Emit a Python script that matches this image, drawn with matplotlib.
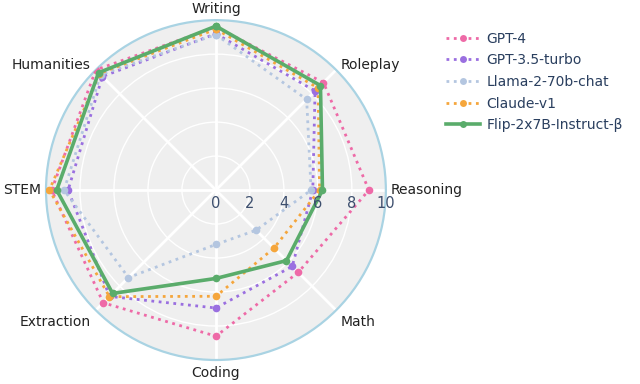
import numpy as np
import matplotlib
matplotlib.use("Agg")
import matplotlib.pyplot as plt
from matplotlib.lines import Line2D

plt.rcParams['font.family'] = ['DejaVu Sans']

categories = ['Writing', 'Roleplay', 'Reasoning', 'Math', 'Coding',
              'Extraction', 'STEM', 'Humanities']
gpt4 = [9.6, 8.95, 9.0, 6.85, 8.6, 9.38, 9.67, 10.0]
gpt35 = [9.2, 8.25, 5.7, 6.35, 6.94, 8.85, 8.7, 9.45]
llama = [9.15, 7.55, 5.6, 3.34, 3.2, 7.28, 8.94, 9.6]
claude = [9.47, 8.5, 6.1, 4.83, 6.25, 8.87, 9.8, 9.7]
flip = [9.65, 8.7, 6.27, 5.87, 5.2, 8.6, 9.37, 9.77]
rticks = [0, 2, 4, 6, 8, 10]

series = [
    ('GPT-4', gpt4, '#ee6aa7', ':'),
    ('GPT-3.5-turbo', gpt35, '#9a6fe0', ':'),
    ('Llama-2-70b-chat', llama, '#b4c6e0', ':'),
    ('Claude-v1', claude, '#f5a63c', ':'),
    ('Flip-2x7B-Instruct-β', flip, '#5aac6b', '-'),
]

fig = plt.figure(figsize=(6.4, 3.84), dpi=100)
ax = fig.add_axes([0.0719, 0.0625, 0.531, 0.885], polar=True)
ax.set_theta_offset(np.pi / 2)
ax.set_theta_direction(-1)
ax.set_facecolor('#efefef')

theta = np.linspace(0, 2 * np.pi, len(categories), endpoint=False)
closed_theta = np.append(theta, theta[0])

handles = []
for name, vals, col, ls in series:
    v = np.append(vals, vals[0])
    lw = 2.6 if ls == '-' else 2.0
    ax.plot(closed_theta, v, ls, color=col, lw=lw, marker='o', ms=5.5,
            markeredgewidth=0, zorder=3)
    handles.append(Line2D([0], [0], ls=ls, color=col, lw=lw, marker='o',
                          ms=5, markeredgewidth=0))

ax.set_ylim(0, 10)
ax.set_yticks([2, 4, 6, 8])
ax.set_yticklabels([])
ax.set_xticks(theta)
ax.set_xticklabels([])
ax.yaxis.grid(True, color='white', lw=1.0)
ax.xaxis.grid(True, color='white', lw=2.0)
ax.tick_params(length=0)
ax.spines['polar'].set_color('#a9d3e3')
ax.spines['polar'].set_linewidth(1.6)

# radial tick labels along Reasoning axis
for r in rticks:
    ax.annotate(str(r), xy=(np.pi / 2, r), xytext=(0, -13),
                textcoords='offset pixels', ha='center', va='center',
                fontsize=10.5, color='#3d4f6e', annotation_clip=False)

# category labels
label_pos = [
    (10.25, 'center', 'bottom'),
    (10.4, 'left', 'center'),
    (10.3, 'left', 'center'),
    (10.4, 'left', 'top'),
    (10.35, 'center', 'top'),
    (10.4, 'right', 'top'),
    (10.3, 'right', 'center'),
    (10.4, 'right', 'center'),
]
for t, lab, (r, ha, va) in zip(theta, categories, label_pos):
    ax.text(t, r, lab, ha=ha, va=va, fontsize=10, color='#222222',
            clip_on=False)

leg = fig.legend(handles, [s[0] for s in series], loc='upper left',
                 bbox_to_anchor=(0.678, 0.95), frameon=False, fontsize=10,
                 handlelength=2.4, labelspacing=0.55, handletextpad=0.5)
for txt in leg.get_texts():
    txt.set_color('#2a3f5f')

fig.savefig('out.png', dpi=100)
